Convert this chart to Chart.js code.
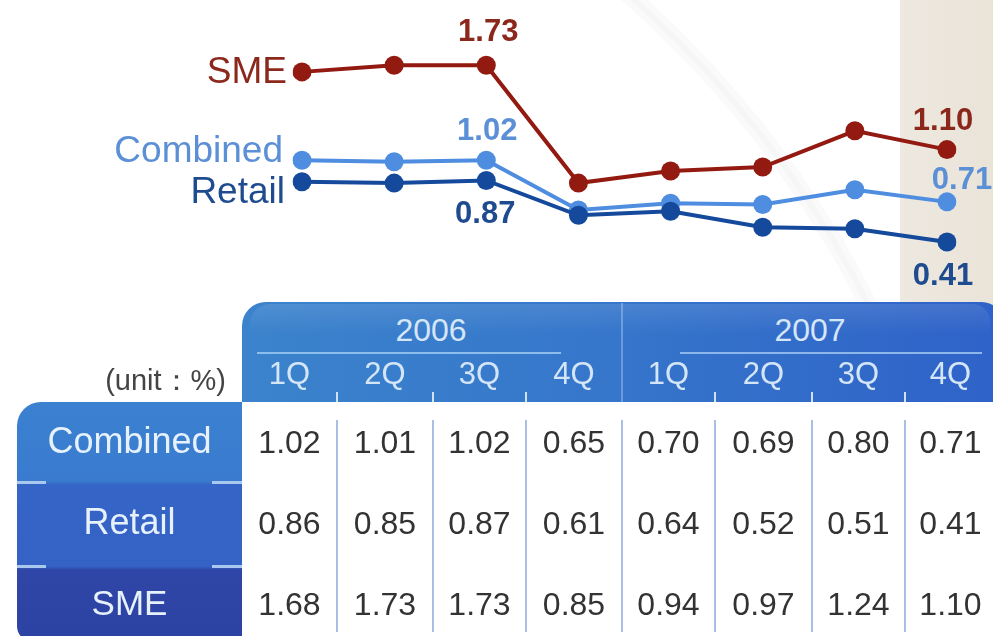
<!DOCTYPE html>
<html>
<head>
<meta charset="utf-8">
<script src="https://cdn.jsdelivr.net/npm/chart.js@4.4.1/dist/chart.umd.min.js"></script>
<style>
  html, body { margin: 0; padding: 0; background: #fff; }
  #wrap { position: relative; width: 993px; height: 636px; overflow: hidden;
          font-family: "Liberation Sans", Arial, sans-serif; }
  #c { position: absolute; left: 0; top: 0; }
  .abs { position: absolute; box-sizing: border-box; }
  .cell { position: absolute; text-align: center; white-space: nowrap; line-height: 1; }
</style>
</head>
<body>
<div id="wrap">
  <canvas id="c" width="993" height="636"></canvas>
  <div id="tbl"></div>
</div>
<script>
// ---- data ----
const quarters = ['1Q', '2Q', '3Q', '4Q', '1Q', '2Q', '3Q', '4Q'];
const years = ['2006', '2007'];
const seriesNames = ['Combined', 'Retail', 'SME'];
const combined = [1.02, 1.01, 1.02, 0.65, 0.70, 0.69, 0.80, 0.71];
const retail   = [0.86, 0.85, 0.87, 0.61, 0.64, 0.52, 0.51, 0.41];
const sme      = [1.68, 1.73, 1.73, 0.85, 0.94, 0.97, 1.24, 1.10];
const unitLabel = '(unit：%)';

// ---- styles ----
const COLORS = {
  SME:      { line: '#931a10', text: '#8b281b' },
  Combined: { line: '#4e8ddf', text: '#5b8fd6' },
  Retail:   { line: '#15499c', text: '#1f4b8f' }
};

// page background: white with a soft arc sweep and a beige strip on the right
const backdrop = {
  id: 'backdrop',
  beforeDraw(chart) {
    const ctx = chart.ctx;
    ctx.save();
    ctx.fillStyle = '#ffffff';
    ctx.fillRect(0, 0, chart.width, chart.height);
    // beige strip
    const g = ctx.createLinearGradient(900, 0, 993, 0);
    g.addColorStop(0, '#eee9e0');
    g.addColorStop(1, '#e9e3d8');
    ctx.fillStyle = g;
    ctx.fillRect(900, 0, 93, 305);
    // faint arc
    ctx.beginPath();
    ctx.rect(0, 0, 900, 305);
    ctx.clip();
    ctx.beginPath();
    ctx.arc(-40, 760, 1016, -Math.PI / 2, 0);
    ctx.lineWidth = 18;
    ctx.strokeStyle = 'rgba(0,0,0,0.018)';
    ctx.stroke();
    ctx.lineWidth = 6;
    ctx.strokeStyle = 'rgba(0,0,0,0.015)';
    ctx.stroke();
    ctx.beginPath();
    ctx.arc(-40, 760, 1004, -Math.PI / 2, 0);
    ctx.lineWidth = 6;
    ctx.strokeStyle = 'rgba(255,255,255,0.9)';
    ctx.stroke();
    ctx.restore();
  }
};

// series names at the start of each line and value call-outs
const callouts = {
  id: 'callouts',
  afterDatasetsDraw(chart) {
    const ctx = chart.ctx;
    const pt = (name, i) => {
      const idx = chart.data.datasets.findIndex(d => d.label === name);
      return chart.getDatasetMeta(idx).data[i];
    };
    ctx.save();
    ctx.textBaseline = 'alphabetic';
    // names
    ctx.font = '37px "Liberation Sans", Arial, sans-serif';
    ctx.textAlign = 'right';
    let p = pt('SME', 0);
    ctx.fillStyle = COLORS.SME.text;
    ctx.fillText('SME', p.x - 15, p.y + 11);
    p = pt('Combined', 0);
    ctx.fillStyle = COLORS.Combined.text;
    ctx.fillText('Combined', p.x - 19, p.y + 2);
    p = pt('Retail', 0);
    ctx.fillStyle = COLORS.Retail.text;
    ctx.fillText('Retail', p.x - 17, p.y + 21);

    // values
    ctx.font = 'bold 31px "Liberation Sans", Arial, sans-serif';
    ctx.textAlign = 'center';
    const val = (name, i, dx, dy) => {
      const series = { SME: sme, Combined: combined, Retail: retail }[name];
      const q = pt(name, i);
      ctx.fillStyle = COLORS[name].text;
      ctx.fillText(series[i].toFixed(2), q.x + dx, q.y + dy);
    };
    val('SME', 2, 2, -24);
    val('Combined', 2, 1, -20);
    val('Retail', 2, -1, 43);
    val('SME', 7, -4, -20);
    val('Combined', 7, 15, -13);
    val('Retail', 7, -4, 43);
    ctx.restore();
  }
};

const mk = (name, values) => ({
  label: name,
  data: values,
  borderColor: COLORS[name].line,
  backgroundColor: COLORS[name].line,
  borderWidth: 4,
  pointRadius: 9.5,
  pointBorderWidth: 0,
  pointHoverRadius: 9.5,
  tension: 0,
  fill: false
});

new Chart(document.getElementById('c'), {
  type: 'line',
  data: {
    labels: quarters,
    // first dataset is painted last (on top)
    datasets: [mk('Retail', retail), mk('Combined', combined), mk('SME', sme)]
  },
  options: {
    responsive: false,
    animation: false,
    devicePixelRatio: 1,
    layout: { padding: { left: 302, right: 46, top: 29, bottom: 339 } },
    scales: {
      x: { type: 'category', display: false, offset: false },
      y: { type: 'linear', display: false, min: 0, max: 2 }
    },
    plugins: { legend: { display: false }, tooltip: { enabled: false } },
    events: []
  },
  plugins: [backdrop, callouts]
});

// ---- data table under the chart ----
const tbl = document.getElementById('tbl');
const colEdges = [242, 337, 433, 526, 622, 715, 812, 905, 996];
const rowCenters = [442, 523, 604];
const seriesRows = [combined, retail, sme];

function add(html, style, cls) {
  const d = document.createElement('div');
  d.className = cls || 'abs';
  d.innerHTML = html;
  Object.assign(d.style, style);
  tbl.appendChild(d);
  return d;
}

// header band
add('', { left: '242px', top: '302px', width: '760px', height: '100px',
  borderRadius: '24px 20px 0 0',
  background: 'linear-gradient(to right, #3b83cc 0%, #3677cb 45%, #2f62c8 100%)' });
// soft top highlight
add('', { left: '250px', top: '304px', width: '740px', height: '30px',
  borderRadius: '20px 18px 0 0',
  background: 'linear-gradient(to bottom, rgba(255,255,255,0.10), rgba(255,255,255,0))' });
// year divider
add('', { left: '621px', top: '303px', width: '2px', height: '99px', background: 'rgba(170,205,240,0.45)' });
// year underlines
add('', { left: '257px', top: '352px', width: '304px', height: '2px', background: '#8dbdea' });
add('', { left: '680px', top: '352px', width: '302px', height: '2px', background: '#8db6ea' });
// years
const yearCenters = [431, 810];
years.forEach((y, i) => add(y, { left: (yearCenters[i] - 60) + 'px', width: '120px', top: '314px',
  fontSize: '32px', color: '#d5e6f7' }, 'cell'));
// quarters
quarters.forEach((q, i) => {
  const cx = (colEdges[i] + colEdges[i + 1]) / 2;
  add(q, { left: (cx - 45) + 'px', width: '90px', top: '358px', fontSize: '31px', color: '#d3e5f7' }, 'cell');
});
// small ticks at the header bottom
colEdges.slice(1, 8).forEach((x, i) => {
  if (i === 3) return;
  add('', { left: (x - 1) + 'px', top: '392px', width: '2px', height: '10px', background: '#cfe1f5' });
});

// unit note
add(unitLabel, { left: '60px', width: '166px', top: '366px', fontSize: '29px', color: '#444',
  textAlign: 'right' }, 'cell');

// row label block
add('', { left: '17px', top: '402px', width: '230px', height: '240px',
  borderRadius: '24px 0 0 16px', overflow: 'hidden',
  background: 'linear-gradient(to bottom, #3b81d0 0%, #3a7bcf 33%, #3565c6 34.5%, #3462c5 68.5%, #2f46a6 70%, #2d43a3 100%)' });
// separator dashes
[482, 566].forEach(y => {
  add('', { left: '17px', top: (y - 1) + 'px', width: '29px', height: '3px', background: '#a8c8ef' });
  add('', { left: '212px', top: (y - 1) + 'px', width: '30px', height: '3px', background: '#a8c8ef' });
});
// row labels
seriesNames.forEach((n, r) => add(n, { left: '17px', width: '225px', top: (rowCenters[r] - 19) + 'px',
  fontSize: n === 'SME' ? '35px' : '36px', color: '#e6f1fc' }, 'cell'));

// white data area
add('', { left: '242px', top: '402px', width: '760px', height: '240px', background: '#ffffff' });
// column rules
colEdges.slice(1, 8).forEach(x => {
  add('', { left: (x - 1) + 'px', top: '420px', width: '2px', height: '212px', background: '#a9bee3' });
});
// values
seriesRows.forEach((vals, r) => {
  vals.forEach((v, i) => {
    const cx = (colEdges[i] + colEdges[i + 1]) / 2;
    add(v.toFixed(2), { left: (cx - 47) + 'px', width: '94px', top: (rowCenters[r] - 16) + 'px',
      fontSize: '32px', color: '#333' }, 'cell');
  });
});
</script>
</body>
</html>
